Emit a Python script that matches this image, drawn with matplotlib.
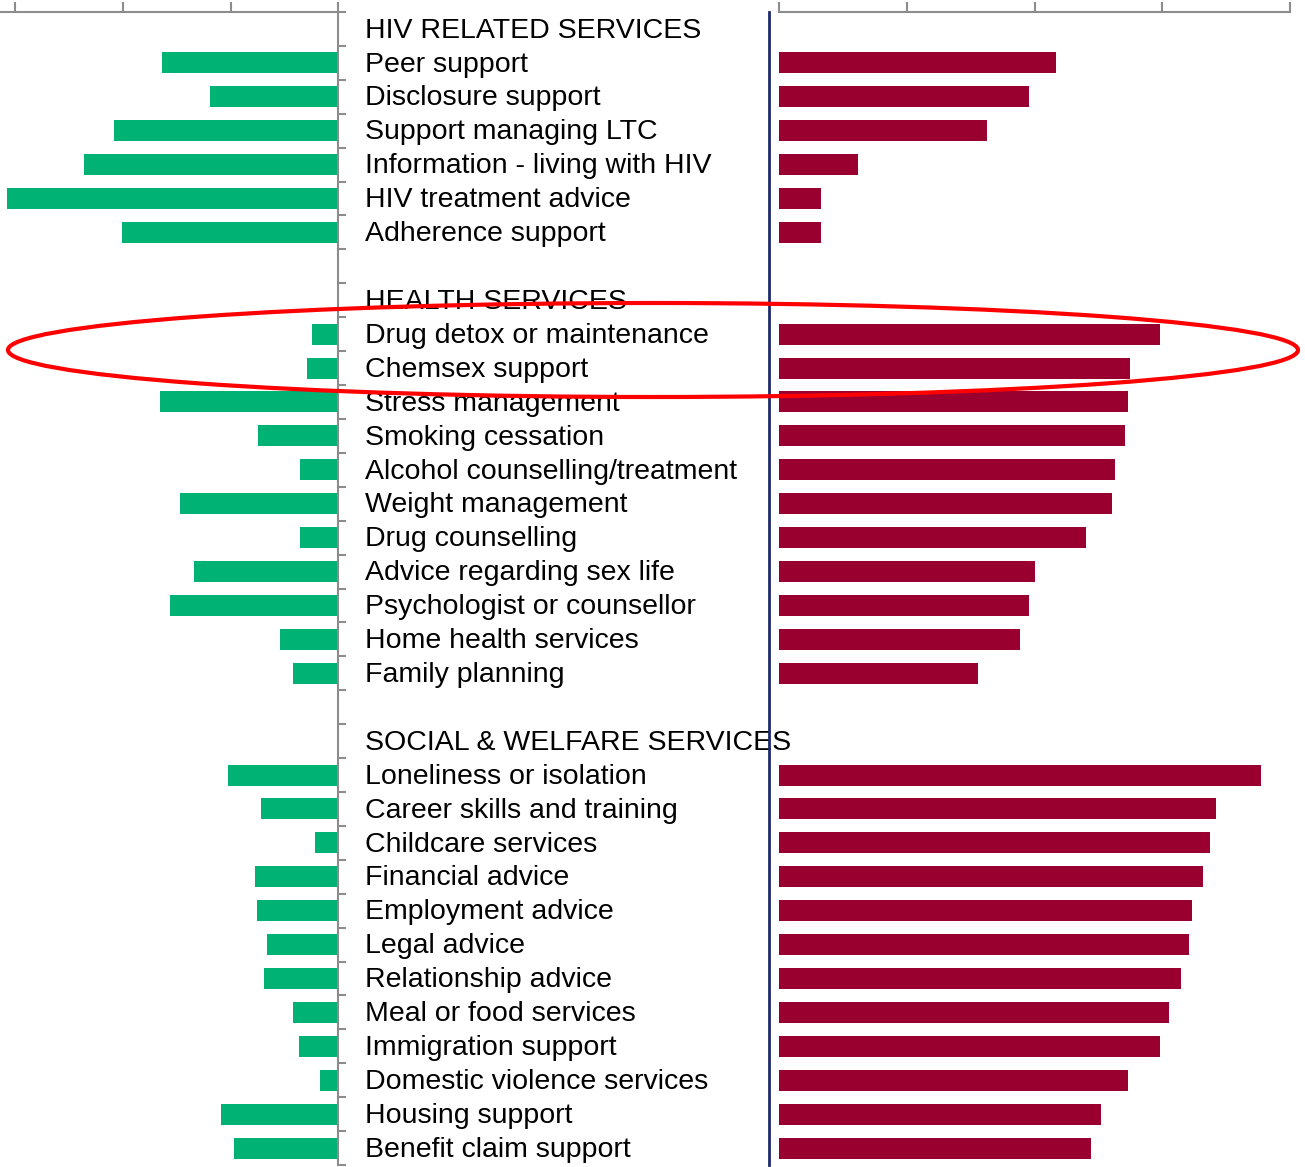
import numpy as np
import matplotlib
matplotlib.use("Agg")
from matplotlib import pyplot as plt
from matplotlib.patches import Ellipse

# three service groups (percent)
hiv_header = "HIV RELATED SERVICES"
hiv_items = ["Peer support", "Disclosure support", "Support managing LTC",
             "Information - living with HIV", "HIV treatment advice",
             "Adherence support"]
hiv_left = [16.4, 11.9, 20.8, 23.6, 30.8, 20.1]
hiv_right = [21.7, 19.6, 16.3, 6.2, 3.3, 3.3]

health_header = "HEALTH SERVICES"
health_items = ["Drug detox or maintenance", "Chemsex support",
                "Stress management", "Smoking cessation",
                "Alcohol counselling/treatment", "Weight management",
                "Drug counselling", "Advice regarding sex life",
                "Psychologist or counsellor", "Home health services",
                "Family planning"]
health_left = [2.4, 2.9, 16.6, 7.4, 3.5, 14.7, 3.5, 13.4, 15.6, 5.4, 4.2]
health_right = [29.8, 27.5, 27.3, 27.1, 26.3, 26.1, 24.0, 20.0, 19.6, 18.9, 15.6]

social_header = "SOCIAL & WELFARE SERVICES"
social_items = ["Loneliness or isolation", "Career skills and training",
                "Childcare services", "Financial advice", "Employment advice",
                "Legal advice", "Relationship advice", "Meal or food services",
                "Immigration support", "Domestic violence services",
                "Housing support", "Benefit claim support"]
social_left = [10.2, 7.2, 2.1, 7.7, 7.5, 6.6, 6.9, 4.2, 3.6, 1.7, 10.9, 9.7]
social_right = [37.7, 34.2, 33.7, 33.2, 32.3, 32.1, 31.5, 30.5, 29.8, 27.3, 25.2, 24.4]

groups = [(hiv_header, hiv_items, hiv_left, hiv_right),
          (health_header, health_items, health_left, health_right),
          (social_header, social_items, social_left, social_right)]

GREEN = "#00B274"
CRIMSON = "#990030"
GREY = "#8C8C8C"
NAVY = "#1F2A6B"

# lay rows out: header, items, blank line between groups
rows, left_vals, right_vals, text_rows = [], [], [], []
r = 0
for header, items, lv, rv in groups:
    text_rows.append((r, header))
    r += 1
    for name, a, b in zip(items, lv, rv):
        rows.append(r)
        left_vals.append(a)
        right_vals.append(b)
        text_rows.append((r, name))
        r += 1
    r += 1
n_rows = r - 1

fig = plt.figure(figsize=(13.05, 11.67), dpi=100)
bottom = 1 - 1165 / 1167
top = 1 - 12 / 1167
ax1 = fig.add_axes([0, bottom, 338 / 1305, top - bottom])
ax2 = fig.add_axes([779 / 1305, bottom, (1290 - 779) / 1305, top - bottom])

ax1.barh(rows, left_vals, height=0.62, color=GREEN)
ax2.barh(rows, right_vals, height=0.62, color=CRIMSON)

for ax in (ax1, ax2):
    ax.set_ylim(n_rows - 0.5, -0.5)
    ax.xaxis.tick_top()
    ax.tick_params(axis="x", direction="out", length=7, width=1.5,
                   color=GREY, labeltop=False, labelbottom=False)
    ax.spines["top"].set_color(GREY)
    ax.spines["top"].set_linewidth(1.5)
    ax.spines["bottom"].set_visible(False)
    ax.set_facecolor("none")

ax1.set_xlim(338 / 10.75, 0)
ax1.set_xticks([0, 10, 20, 30])
ax1.spines["left"].set_visible(False)
ax1.spines["right"].set_color(GREY)
ax1.spines["right"].set_linewidth(1.5)
ax1.yaxis.tick_right()
ax1.set_yticks(np.arange(-0.5, n_rows, 1))
ax1.tick_params(axis="y", direction="out", length=6, width=1.5,
                color=GREY, labelright=False)

ax2.set_xlim(0, 40)
ax2.set_xticks([0, 10, 20, 30, 40])
ax2.spines["right"].set_visible(False)
ax2.spines["left"].set_position(("outward", 7.2))
ax2.spines["left"].set_color(NAVY)
ax2.spines["left"].set_linewidth(2)
ax2.set_yticks([])

for row, txt in text_rows:
    ax1.text(1.08, row + 0.05, txt, transform=ax1.get_yaxis_transform(),
             ha="left", va="center", fontsize=20.5, color="black",
             family="Liberation Sans", clip_on=False)

ring = Ellipse((653 / 1305, 1 - 350 / 1167), 1290 / 1305, 94 / 1167,
               transform=fig.transFigure, fill=False, edgecolor="#FF0000",
               linewidth=3)
fig.add_artist(ring)

plt.savefig("out.png", dpi=100)
